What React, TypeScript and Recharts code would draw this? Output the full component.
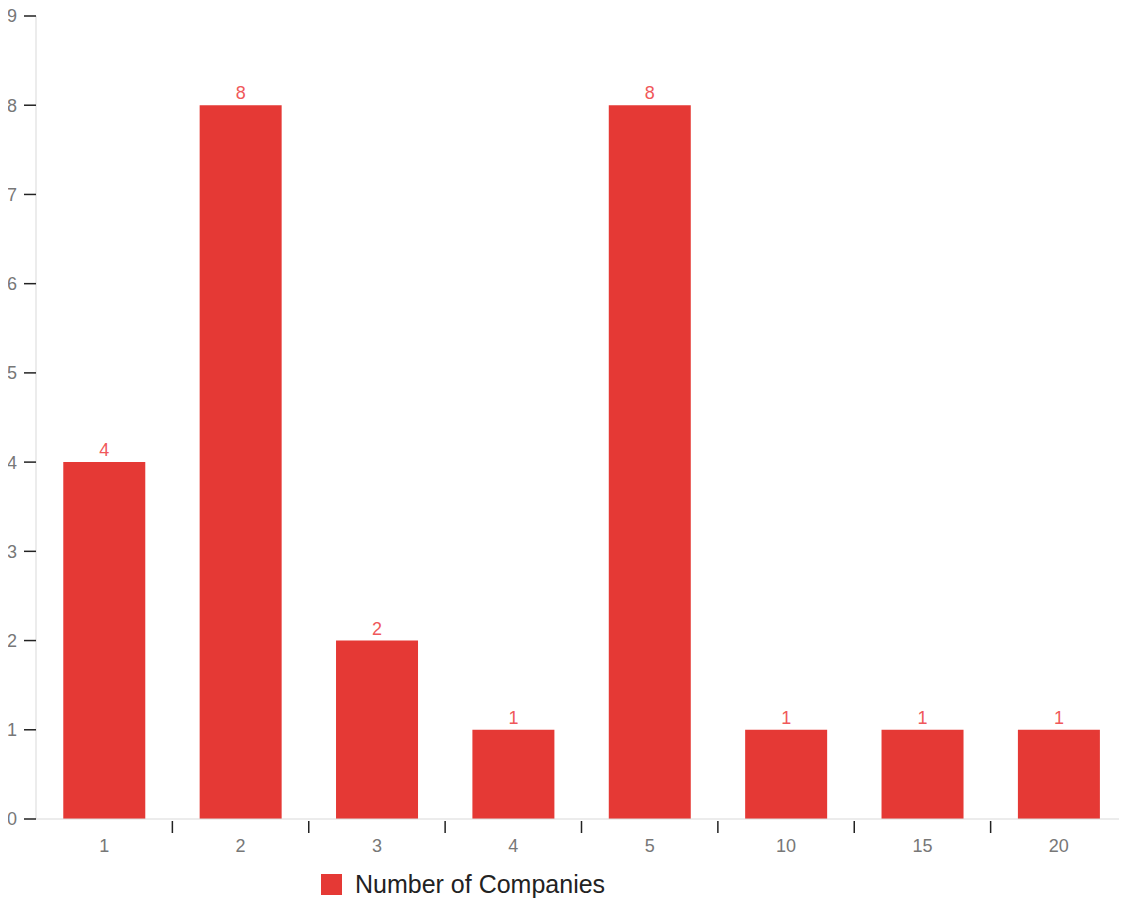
import { BarChart, Bar, XAxis, YAxis, LabelList, Legend } from "recharts";

const categories = ["1", "2", "3", "4", "5", "10", "15", "20"];
const companyCounts = [4, 8, 2, 1, 8, 1, 1, 1];
const yTicks = [0, 1, 2, 3, 4, 5, 6, 7, 8, 9];

const seriesName = "Number of Companies";
const barColor = "#e53935";
const labelColor = "#f0585a";
const axisColor = "#d9d9d9";
const font = "'Liberation Sans', Arial, sans-serif";

const data = categories.map((c, i) => ({ category: c, count: companyCounts[i] }));

// category labels sit in the band centre, tick marks go on the band edges
function XTick(props: any) {
  const { x, y, payload } = props;
  const half = payload?.offset ?? 0;
  return (
    <g>
      {payload.index > 0 && (
        <line x1={x - half} x2={x - half} y1={y - 6} y2={y + 6} stroke="#222" strokeWidth={1.5} />
      )}
      <text x={x} y={y + 25} textAnchor="middle" fill="#777" fontSize={18} fontFamily={font}>
        {payload.value}
      </text>
    </g>
  );
}

function LegendContent() {
  return (
    <div style={{ display: "flex", alignItems: "center", marginLeft: 321, fontFamily: font }}>
      <span style={{ width: 21, height: 21, background: barColor, display: "inline-block" }} />
      <span style={{ marginLeft: 13, fontSize: 25, color: "#222", lineHeight: "28px" }}>
        {seriesName}
      </span>
    </div>
  );
}

export default function App() {
  return (
    <div style={{ width: 1127, height: 902, margin: "-8px 0 0 -8px" }}>
      <BarChart
        width={1127}
        height={902}
        data={data}
        margin={{ top: 16, right: 0, bottom: 0, left: 8 }}
        barCategoryGap="20%"
      >
        <XAxis
          dataKey="category"
          stroke={axisColor}
          tickLine={false}
          tick={<XTick />}
          height={51}
        />
        <YAxis
          domain={[0, 9]}
          ticks={yTicks}
          width={28}
          stroke={axisColor}
          tickSize={12}
          tickLine={{ stroke: "#222", strokeWidth: 1.5 }}
          tickMargin={7}
          tick={{ fill: "#777", fontSize: 18, fontFamily: font }}
          interval={0}
        />
        <Legend
          verticalAlign="bottom"
          content={<LegendContent />}
          wrapperStyle={{ left: 0, bottom: 0, width: 1127, height: 32 }}
        />
        <Bar dataKey="count" name={seriesName} fill={barColor} isAnimationActive={false}>
          <LabelList
            dataKey="count"
            position="top"
            offset={6}
            fill={labelColor}
            fontSize={18}
            fontFamily={font}
          />
        </Bar>
      </BarChart>
    </div>
  );
}
